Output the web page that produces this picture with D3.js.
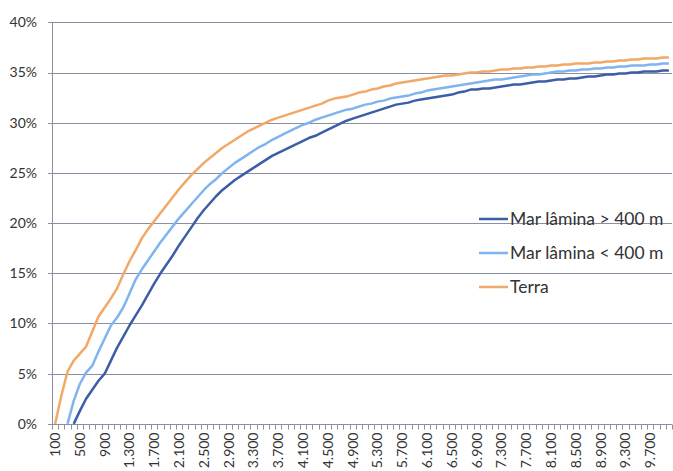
<!DOCTYPE html>
<html>
<head>
<meta charset="utf-8">
<script src="https://cdn.jsdelivr.net/npm/d3@7"></script>
<style>
html,body{margin:0;padding:0;background:#fff;}
svg{display:block;}
text{font-family:Lato,"Open Sans",sans-serif;fill:#333;}
</style>
</head>
<body>
<svg id="chart" width="673" height="471"></svg>
<script>
// Categories (distance, m)
const categories = d3.range(100, 10001, 100);
// Y ticks
const yTicks = [0, 0.05, 0.10, 0.15, 0.20, 0.25, 0.30, 0.35, 0.40];
// Series names
const seriesNames = ["Mar lâmina > 400 m", "Mar lâmina < 400 m", "Terra"];
// Series values (%)
const marMaior400 = [null,null,null,0,1.3,2.5,3.4,4.3,5.0,6.3,
7.6,8.7,9.8,10.8,11.8,12.9,14.0,15.0,15.9,16.8,
17.8,18.7,19.6,20.5,21.3,22.0,22.7,23.3,23.8,24.3,
24.7,25.1,25.5,25.9,26.3,26.7,27.0,27.3,27.6,27.9,
28.2,28.5,28.7,29.0,29.3,29.6,29.9,30.2,30.4,30.6,
30.8,31.0,31.2,31.4,31.6,31.8,31.9,32.0,32.2,32.3,
32.4,32.5,32.6,32.7,32.8,33.0,33.1,33.3,33.3,33.4,
33.4,33.5,33.6,33.7,33.8,33.8,33.9,34.0,34.1,34.1,
34.2,34.3,34.3,34.4,34.4,34.5,34.6,34.6,34.7,34.8,
34.8,34.9,34.9,35.0,35.0,35.1,35.1,35.1,35.2,35.2];
const marMenor400 = [null,null,0,2.3,4.0,5.1,5.8,7.2,8.5,9.8,
10.6,11.6,13.0,14.4,15.4,16.3,17.2,18.1,18.9,19.7,
20.5,21.2,21.9,22.6,23.3,23.9,24.4,25.0,25.5,26.0,
26.4,26.8,27.2,27.6,27.9,28.3,28.6,28.9,29.2,29.5,
29.8,30.0,30.3,30.5,30.7,30.9,31.1,31.3,31.4,31.6,
31.8,31.9,32.1,32.2,32.4,32.5,32.6,32.7,32.9,33.0,
33.2,33.3,33.4,33.5,33.6,33.7,33.8,33.9,34.0,34.1,
34.2,34.3,34.3,34.4,34.5,34.6,34.7,34.8,34.8,34.9,
35.0,35.1,35.1,35.2,35.2,35.3,35.3,35.4,35.4,35.5,
35.5,35.6,35.6,35.7,35.7,35.7,35.8,35.8,35.9,35.9];
const terra = [0,2.8,5.2,6.3,7.0,7.7,9.2,10.7,11.6,12.5,
13.5,14.9,16.2,17.3,18.5,19.4,20.2,21.0,21.8,22.6,
23.4,24.1,24.8,25.4,26.0,26.5,27.0,27.5,27.9,28.3,
28.7,29.1,29.4,29.7,30.0,30.3,30.5,30.7,30.9,31.1,
31.3,31.5,31.7,31.9,32.2,32.4,32.5,32.6,32.8,33.0,
33.1,33.3,33.4,33.6,33.7,33.9,34.0,34.1,34.2,34.3,
34.4,34.5,34.6,34.7,34.7,34.8,34.9,35.0,35.0,35.1,
35.1,35.2,35.3,35.3,35.4,35.4,35.5,35.5,35.6,35.6,
35.7,35.7,35.8,35.8,35.9,35.9,35.9,36.0,36.0,36.1,
36.1,36.2,36.2,36.3,36.3,36.4,36.4,36.4,36.5,36.5];
const seriesColors = ["#3d5ea6", "#7fb4ef", "#f2a866"];

(function () {
const svg = d3.select("#chart");
const mLeft = 52, mRight = 672, mTop = 22.3, mBottom = 423.9;

const x = d3.scaleBand().domain(categories).range([mLeft, mRight]).padding(0);
const y = d3.scaleLinear().domain([0, 0.4]).range([mBottom, mTop]);

const gridColor = "#8a8fa3";

// Gridlines
svg.append("g")
  .selectAll("line").data(yTicks).join("line")
  .attr("x1", mLeft - 4).attr("x2", mRight)
  .attr("y1", d => Math.round(y(d)) + 0.5).attr("y2", d => Math.round(y(d)) + 0.5)
  .attr("stroke", gridColor).attr("stroke-width", 1);

// Y axis
const yAxis = d3.axisLeft(y).tickValues(yTicks).tickFormat(d3.format(".0%")).tickSize(0).tickPadding(15);
const gy = svg.append("g").attr("transform", `translate(${mLeft},0)`).call(yAxis);
gy.select(".domain").attr("stroke", gridColor);
gy.selectAll("text").style("font-size", "14px").style("font-family", "Lato, sans-serif").attr("fill", "#333");

// X axis
const ptFmt = d3.formatLocale({decimal: ",", thousands: ".", grouping: [3], currency: ["", ""]}).format(",");
const xLabelCats = categories.filter((c, i) => i % 4 === 0);
const gx = svg.append("g").attr("transform", `translate(0,${Math.round(y(0)) + 0.5})`);
const bounds = categories.map(c => x(c)).concat([x(categories[categories.length-1]) + x.bandwidth()]);
gx.selectAll("line.tk").data(bounds).join("line").attr("class", "tk")
  .attr("x1", d => Math.round(d) + 0.5).attr("x2", d => Math.round(d) + 0.5)
  .attr("y1", 0).attr("y2", 5).attr("stroke", gridColor);
const xAxis = d3.axisBottom(x).tickValues(xLabelCats).tickFormat(ptFmt).tickSize(0);
const gxa = svg.append("g").attr("transform", `translate(0,${Math.round(y(0)) + 0.5})`).call(xAxis);
gxa.select(".domain").remove();
gxa.selectAll("text")
  .style("font-size", "14px").style("font-family", "Lato, sans-serif").attr("fill", "#333")
  .attr("transform", "rotate(-90)")
  .attr("text-anchor", "end")
  .attr("x", -8).attr("y", 0).attr("dy", "0.35em");

// Lines
const allSeries = [marMaior400, marMenor400, terra];
const line = d3.line()
  .defined(d => d.v !== null)
  .x(d => x(d.c) + x.bandwidth() / 2)
  .y(d => y(d.v / 100));
[2, 1, 0].forEach(si => {
  const data = categories.map((c, i) => ({c, v: allSeries[si][i]}));
  svg.append("path").datum(data)
    .attr("fill", "none").attr("stroke", seriesColors[si])
    .attr("stroke-width", 2.5).attr("stroke-linejoin", "round")
    .attr("d", line);
});

// Legend
const legY = [219, 253, 287];
const lg = svg.append("g");
seriesNames.forEach((name, i) => {
  lg.append("line").attr("x1", 479).attr("x2", 508).attr("y1", legY[i]).attr("y2", legY[i])
    .attr("stroke", seriesColors[i]).attr("stroke-width", 2.5);
  lg.append("text").attr("x", 510).attr("y", legY[i]).attr("dy", "0.35em")
    .style("font-size", "17.5px").text(name);
});
})();
</script>
</body>
</html>
